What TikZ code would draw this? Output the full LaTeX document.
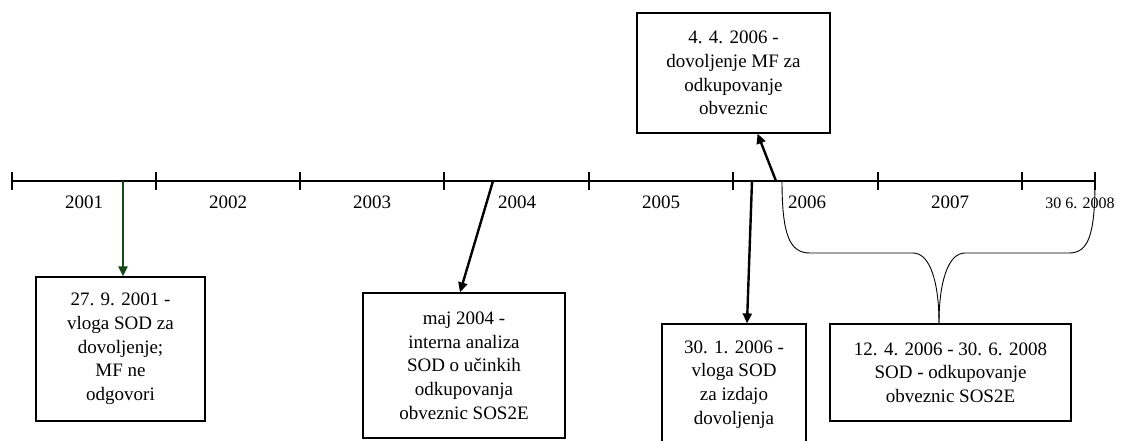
\documentclass[tikz,border=0pt]{standalone}
\usepackage{fontspec}
\setmainfont{Liberation Serif}
\usetikzlibrary{arrows.meta,calc}
\definecolor{dgreen}{RGB}{22,72,22}
\begin{document}
\begin{tikzpicture}[x=1pt,y={(0pt,-1pt)},
  box/.style={draw,line width=1.2pt,align=center,inner sep=0pt,font=\fontsize{19}{23.7}\selectfont},
  yearlab/.style={anchor=base,inner sep=0pt,font=\fontsize{19}{23}\selectfont},
  arr/.style={line width=2.4pt,-{Triangle[length=10pt,width=9pt]}},
  tick/.style={line width=1.6pt}]
\useasboundingbox (0,0) rectangle (1121,441);
\clip (0,0) rectangle (1121,441);
% axis
\coordinate (s) at (12,181);
\coordinate (e) at (1095,181);
\draw[line width=1.8pt] (s) -- (e);
\foreach \x in {12,156,300,444,589,733,878,1022,1095}
  \draw[tick] (\x,172) -- (\x,190);
% year labels
\node[yearlab] (y1) at (84,208) {2001};
\node[yearlab] (y2) at (228,208) {2002};
\node[yearlab] (y3) at (372,208) {2003};
\node[yearlab] (y4) at (517,208) {2004};
\node[yearlab] (y5) at (661,208) {2005};
\node[yearlab] (y6) at (807,208) {2006};
\node[yearlab] (y7) at (950,208) {2007};
\node[yearlab,font=\fontsize{16}{20}\selectfont] (y8) at (1080,208) {30 6. 2008};
% boxes
\node[box,minimum width=169pt,minimum height=144pt] (b1) at (120.5,349)
  {27. 9. 2001 -\\vloga SOD za\\dovoljenje;\\MF ne\\odgovori};
\node[box,minimum width=202pt,minimum height=145pt] (b2) at (464,365.5)
  {maj 2004 -\\interna analiza\\SOD o učinkih\\odkupovanja\\obveznic SOS2E};
\node[box,minimum width=193pt,minimum height=120pt] (b3) at (733.5,73)
  {4. 4. 2006 -\\dovoljenje MF za\\odkupovanje\\obveznic};
\node[box,minimum width=144pt,minimum height=121pt] (b4) at (734,384.5)
  {30. 1. 2006 -\\vloga SOD\\za izdajo\\dovoljenja};
\node[box,minimum width=241pt,minimum height=97pt] (b5) at (950.5,372.5)
  {12. 4. 2006 - 30. 6. 2008\\SOD - odkupovanje\\obveznic SOS2E};
% arrows
\coordinate (a1) at (123,181);
\coordinate (a2) at (493,181);
\coordinate (a3) at (776,181);
\coordinate (a4) at (752,181);
\draw[arr,dgreen,line width=2pt] (a1) -- (a1 |- b1.north);
\draw[arr] (a2) -- ($(b2.north)+(-4,0)$);
\draw[arr] (a3) -- ($(b3.south)+(24,0)$);
\draw[arr] (a4) -- ($(b4.north)+(13,0)$);
% brace
\coordinate (bl) at (782,181);
\coordinate (br) at (1095,181);
\coordinate (tip) at ($(b5.north)+(-11.5,0)$);
\draw[line width=0.9pt] (bl) .. controls (782,236) and (790,253) .. (810,253)
  -- (913,253) .. controls (930,253) and (939,282) .. (tip);
\draw[line width=0.9pt] (br) .. controls (1095,236) and (1088,253) .. (1069,253)
  -- (965,253) .. controls (948,253) and (939,282) .. (tip);
\end{tikzpicture}
\end{document}
